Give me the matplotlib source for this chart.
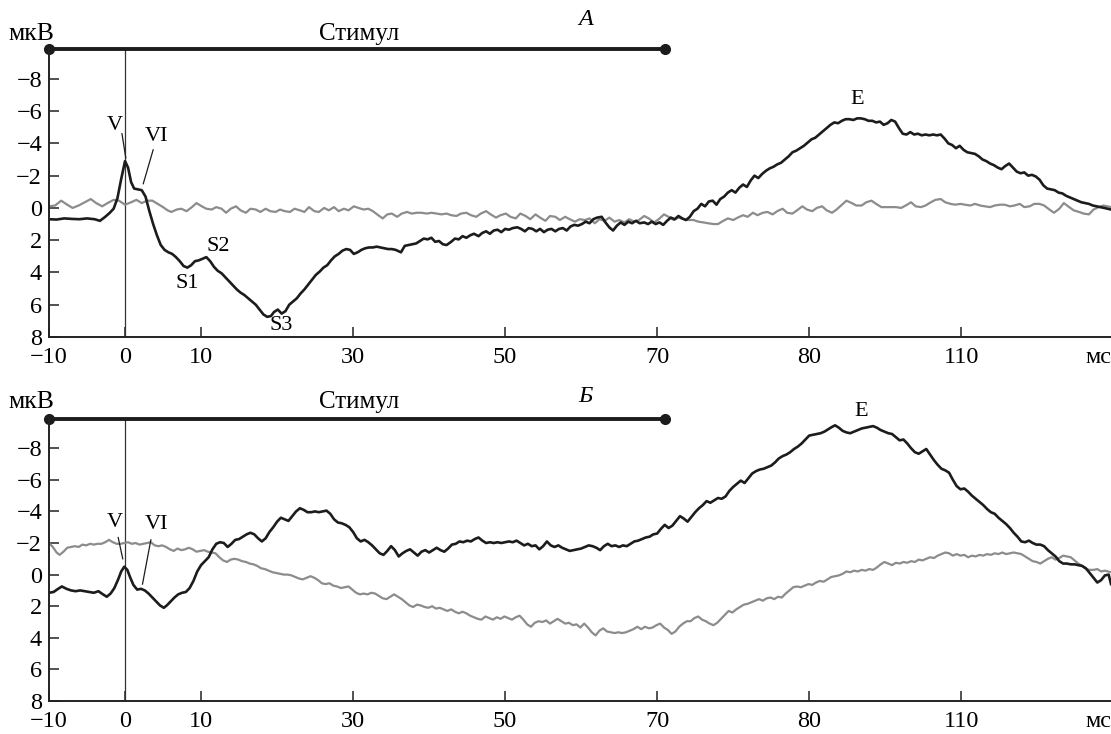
import matplotlib
matplotlib.use('Agg')
import matplotlib.pyplot as plt

plt.rcParams['font.family'] = ['Liberation Serif', 'DejaVu Serif']

# ---- data (time in ms, amplitude in uV, negative up) ----
a_black = [
    (-10.0, 0.70), (-9.0, 0.72), (-8.0, 0.65), (-7.0, 0.68), (-6.0, 0.70), (-5.0, 0.65),
    (-4.0, 0.70), (-3.3, 0.80), (-2.6, 0.55), (-2.0, 0.30), (-1.5, 0.05), (-1.0, -0.60),
    (-0.5, -1.80), (0.0, -2.90), (0.4, -2.50), (0.8, -1.60), (1.2, -1.20), (1.7, -1.15),
    (2.2, -1.10), (2.7, -0.70), (3.2, 0.20), (3.7, 1.00), (4.2, 1.70), (4.7, 2.30),
    (5.2, 2.60), (5.7, 2.75), (6.2, 2.85), (6.7, 3.05), (7.2, 3.30), (7.7, 3.60),
    (8.2, 3.70), (8.7, 3.55), (9.2, 3.30), (9.7, 3.25), (10.2, 3.15), (10.7, 3.05),
    (11.2, 3.30), (11.7, 3.65), (12.2, 3.90), (12.7, 4.05), (13.2, 4.30), (13.7, 4.55),
    (14.2, 4.80), (14.7, 5.05), (15.2, 5.25), (15.7, 5.40), (16.2, 5.60), (16.7, 5.80),
    (17.2, 6.00), (17.7, 6.30), (18.2, 6.60), (18.7, 6.75), (19.2, 6.70), (19.6, 6.45),
    (20.1, 6.30), (20.6, 6.55), (21.1, 6.40), (21.6, 6.00), (22.1, 5.80), (22.6, 5.60),
    (23.1, 5.30), (23.6, 5.05), (24.1, 4.75), (24.6, 4.45), (25.1, 4.15), (25.6, 3.95),
    (26.1, 3.70), (26.6, 3.55), (27.1, 3.25), (27.6, 3.00), (28.1, 2.85), (28.6, 2.65),
    (29.1, 2.55), (29.6, 2.60), (30.1, 2.85), (30.6, 2.75), (31.1, 2.60), (31.6, 2.50),
    (32.1, 2.45), (32.6, 2.45), (33.1, 2.40), (33.6, 2.45), (34.1, 2.50), (34.6, 2.55),
    (35.1, 2.55), (35.6, 2.60), (36.3, 2.75), (36.8, 2.35), (37.3, 2.30), (37.8, 2.25),
    (38.3, 2.20), (38.8, 2.05), (39.3, 1.90), (39.8, 1.95), (40.3, 1.85), (40.8, 2.10),
    (41.3, 2.05), (41.8, 2.25), (42.3, 2.30), (42.9, 2.10), (43.4, 1.90), (43.9, 1.95),
    (44.4, 1.75), (44.9, 1.85), (45.4, 1.70), (45.9, 1.60), (46.5, 1.75), (47.0, 1.55),
    (47.5, 1.45), (48.0, 1.60), (48.5, 1.40), (49.0, 1.35), (49.5, 1.50), (50.0, 1.30),
    (50.5, 1.35), (51.0, 1.25), (51.6, 1.20), (52.1, 1.30), (52.6, 1.45), (53.1, 1.25),
    (53.6, 1.30), (54.1, 1.45), (54.6, 1.30), (55.1, 1.50), (55.6, 1.35), (56.1, 1.30),
    (56.6, 1.45), (57.1, 1.30), (57.6, 1.25), (58.1, 1.40), (58.6, 1.15), (59.1, 1.05),
    (59.6, 1.10), (60.1, 1.00), (60.6, 0.85), (61.1, 0.95), (61.6, 0.70), (62.1, 0.60),
    (62.7, 0.55), (63.2, 0.90), (63.7, 1.20), (64.2, 1.40), (64.7, 1.10), (65.2, 0.90),
    (65.7, 1.05), (66.2, 0.85), (66.7, 0.95), (67.2, 0.80), (67.7, 0.95), (68.3, 0.90),
    (68.8, 1.00), (69.3, 0.85), (69.8, 1.00), (70.3, 0.90), (70.8, 1.05), (71.3, 0.80),
    (71.8, 0.60), (72.3, 0.70), (72.8, 0.50), (73.3, 0.65), (73.8, 0.75), (74.3, 0.55),
    (74.8, 0.20), (75.3, 0.05), (75.8, -0.25), (76.3, -0.10), (76.8, -0.40), (77.3, -0.45),
    (77.8, -0.20), (78.3, -0.55), (78.8, -0.70), (79.3, -0.95), (79.8, -1.10), (80.3, -0.95),
    (80.8, -1.25), (81.3, -1.45), (81.8, -1.30), (82.3, -1.70), (82.8, -2.00), (83.3, -1.85),
    (83.8, -2.10), (84.3, -2.30), (84.8, -2.45), (85.3, -2.55), (85.8, -2.70), (86.3, -2.80),
    (86.8, -3.00), (87.3, -3.20), (87.8, -3.45), (88.3, -3.55), (88.8, -3.70), (89.3, -3.85),
    (89.8, -4.05), (90.3, -4.25), (90.8, -4.35), (91.3, -4.55), (91.8, -4.75), (92.3, -4.95),
    (92.8, -5.15), (93.3, -5.30), (93.8, -5.25), (94.3, -5.40), (94.8, -5.50), (95.3, -5.50),
    (95.8, -5.45), (96.3, -5.55), (96.8, -5.55), (97.3, -5.50), (97.8, -5.40), (98.3, -5.40),
    (98.8, -5.30), (99.3, -5.35), (99.8, -5.15), (100.3, -5.25), (100.8, -5.45), (101.3, -5.35),
    (101.8, -4.95), (102.3, -4.60), (102.8, -4.55), (103.3, -4.70), (103.8, -4.55), (104.3, -4.60),
    (104.8, -4.50), (105.3, -4.55), (105.8, -4.50), (106.3, -4.55), (106.8, -4.50), (107.3, -4.55),
    (107.8, -4.30), (108.3, -4.00), (108.8, -3.90), (109.3, -3.70), (109.8, -3.85), (110.3, -3.60),
    (110.8, -3.45), (111.3, -3.40), (111.8, -3.35), (112.3, -3.20), (112.8, -3.00), (113.3, -2.90),
    (113.8, -2.75), (114.3, -2.65), (114.8, -2.50), (115.3, -2.40), (115.8, -2.60), (116.3, -2.75),
    (116.8, -2.50), (117.3, -2.25), (117.8, -2.15), (118.3, -2.20), (118.8, -2.00), (119.3, -2.05),
    (119.8, -1.95), (120.3, -1.75), (120.8, -1.40), (121.3, -1.20), (121.8, -1.15), (122.3, -1.10),
    (122.8, -0.95), (123.3, -0.90), (123.8, -0.75), (124.3, -0.65), (124.8, -0.55), (125.3, -0.45),
    (125.8, -0.35), (126.3, -0.30), (126.8, -0.25), (127.3, -0.15), (127.8, -0.10), (128.3, -0.05),
    (128.8, 0.00), (129.7, 0.10),
]

a_grey = [
    (-10.0, -0.10), (-9.2, -0.15), (-8.4, -0.45), (-7.6, -0.20), (-6.9, 0.00), (-6.1, -0.15),
    (-5.3, -0.35), (-4.5, -0.55), (-3.8, -0.30), (-3.0, -0.10), (-2.3, -0.30), (-1.5, -0.50),
    (-0.8, -0.45), (0.0, -0.20), (0.8, -0.35), (1.5, -0.50), (2.2, -0.30), (2.9, -0.45),
    (3.6, -0.45), (4.3, -0.25), (5.0, -0.05), (5.6, 0.15), (6.1, 0.25), (6.8, 0.10),
    (7.4, 0.05), (8.1, 0.20), (8.8, -0.05), (9.4, -0.30), (10.1, -0.10), (10.7, 0.05),
    (11.4, 0.10), (12.0, -0.05), (12.7, 0.05), (13.3, 0.30), (13.9, 0.05), (14.6, -0.10),
    (15.2, 0.15), (15.9, 0.30), (16.5, 0.05), (17.2, 0.10), (17.8, 0.25), (18.5, 0.05),
    (19.1, 0.20), (19.8, 0.25), (20.4, 0.10), (21.0, 0.20), (21.7, 0.25), (22.3, 0.05),
    (23.0, 0.15), (23.6, 0.25), (24.2, -0.05), (24.9, 0.20), (25.5, 0.25), (26.2, 0.00),
    (26.8, 0.15), (27.5, -0.05), (28.1, 0.20), (28.8, 0.05), (29.4, 0.15), (30.1, -0.10),
    (30.7, 0.00), (31.4, 0.10), (32.0, 0.05), (32.6, 0.20), (33.3, 0.45), (33.9, 0.65),
    (34.5, 0.40), (35.1, 0.35), (35.8, 0.55), (36.4, 0.35), (37.1, 0.25), (37.7, 0.35),
    (38.4, 0.30), (39.0, 0.30), (39.7, 0.35), (40.3, 0.30), (41.0, 0.35), (41.6, 0.40),
    (42.3, 0.35), (42.9, 0.45), (43.6, 0.50), (44.2, 0.35), (44.9, 0.30), (45.5, 0.45),
    (46.2, 0.55), (46.8, 0.35), (47.5, 0.20), (48.1, 0.40), (48.8, 0.60), (49.4, 0.45),
    (50.1, 0.35), (50.7, 0.55), (51.4, 0.65), (52.0, 0.35), (52.7, 0.50), (53.3, 0.70),
    (54.0, 0.40), (54.6, 0.60), (55.3, 0.80), (55.9, 0.50), (56.6, 0.55), (57.2, 0.75),
    (57.9, 0.55), (58.5, 0.70), (59.2, 0.85), (59.8, 0.70), (60.5, 0.75), (61.1, 0.65),
    (61.8, 0.95), (62.4, 0.70), (63.1, 0.80), (63.7, 0.60), (64.4, 0.85), (65.0, 0.75),
    (65.7, 0.90), (66.3, 0.70), (67.0, 0.85), (67.6, 0.75), (68.3, 0.50), (68.9, 0.65),
    (69.6, 0.90), (70.2, 0.70), (70.9, 0.40), (71.5, 0.55), (72.2, 0.75), (72.8, 0.60),
    (73.5, 0.70), (74.1, 0.75), (74.8, 0.75), (75.4, 0.85), (76.1, 0.90), (76.7, 0.95),
    (77.4, 1.00), (78.0, 1.00), (78.7, 0.80), (79.3, 0.65), (80.0, 0.75), (80.6, 0.60),
    (81.3, 0.45), (81.9, 0.55), (82.6, 0.30), (83.2, 0.45), (83.9, 0.30), (84.5, 0.25),
    (85.2, 0.40), (85.8, 0.20), (86.5, 0.05), (87.1, 0.30), (87.8, 0.35), (88.4, 0.15),
    (89.1, -0.10), (89.7, 0.10), (90.4, 0.20), (91.0, 0.00), (91.7, -0.10), (92.3, 0.15),
    (93.0, 0.30), (93.6, 0.10), (94.3, -0.20), (94.9, -0.45), (95.6, -0.30), (96.2, -0.15),
    (96.9, -0.15), (97.5, -0.35), (98.2, -0.45), (98.8, -0.25), (99.5, -0.05), (100.1, -0.05),
    (100.8, -0.05), (101.4, -0.05), (102.1, 0.00), (102.7, -0.15), (103.4, -0.35), (104.0, -0.10),
    (104.7, -0.05), (105.3, -0.15), (106.0, -0.35), (106.6, -0.50), (107.3, -0.55), (107.9, -0.35),
    (108.6, -0.25), (109.2, -0.20), (109.9, -0.25), (110.5, -0.20), (111.2, -0.15), (111.8, -0.25),
    (112.5, -0.15), (113.1, -0.10), (113.8, -0.05), (114.4, -0.15), (115.1, -0.20), (115.7, -0.20),
    (116.4, -0.10), (117.0, -0.15), (117.7, -0.25), (118.3, -0.05), (119.0, -0.10), (119.6, -0.25),
    (120.3, -0.25), (120.9, -0.15), (121.6, 0.10), (122.2, 0.30), (122.9, 0.05), (123.5, -0.30),
    (124.2, -0.05), (124.8, 0.15), (125.5, 0.25), (126.1, 0.35), (126.8, 0.40), (127.4, 0.10),
    (128.1, -0.05), (128.7, -0.15), (129.7, -0.05),
]

b_black = [
    (-10.0, 1.15), (-9.4, 1.10), (-8.8, 0.90), (-8.3, 0.75), (-7.7, 0.90), (-7.1, 1.00),
    (-6.5, 1.05), (-5.9, 1.00), (-5.3, 1.05), (-4.7, 1.10), (-4.1, 1.15), (-3.5, 1.05),
    (-2.9, 1.25), (-2.4, 1.40), (-1.9, 1.20), (-1.4, 0.85), (-0.9, 0.30), (-0.5, -0.20),
    (-0.1, -0.50), (0.3, -0.30), (0.7, 0.20), (1.1, 0.65), (1.6, 0.95), (2.1, 0.90),
    (2.6, 1.00), (3.1, 1.20), (3.6, 1.45), (4.1, 1.70), (4.6, 1.95), (5.1, 2.10),
    (5.5, 1.95), (6.0, 1.70), (6.5, 1.45), (7.0, 1.25), (7.5, 1.15), (8.0, 1.10),
    (8.5, 0.85), (9.0, 0.40), (9.5, -0.20), (10.0, -0.60), (10.5, -0.85), (11.0, -1.10),
    (11.5, -1.60), (12.0, -1.95), (12.5, -2.05), (13.0, -2.00), (13.5, -1.75), (14.0, -1.95),
    (14.5, -2.20), (15.0, -2.25), (15.5, -2.40), (16.0, -2.55), (16.5, -2.65), (17.0, -2.55),
    (17.5, -2.30), (18.0, -2.10), (18.5, -2.30), (19.0, -2.70), (19.5, -3.00), (20.0, -3.35),
    (20.5, -3.60), (21.0, -3.50), (21.5, -3.40), (22.0, -3.70), (22.5, -4.00), (23.0, -4.20),
    (23.5, -4.10), (24.0, -3.95), (24.5, -3.95), (25.0, -4.00), (25.5, -3.95), (26.0, -4.00),
    (26.5, -4.05), (27.0, -3.85), (27.5, -3.50), (28.0, -3.30), (28.5, -3.25), (29.0, -3.15),
    (29.5, -3.00), (30.0, -2.70), (30.5, -2.30), (31.0, -2.10), (31.5, -2.20), (32.0, -2.05),
    (32.5, -1.85), (33.0, -1.60), (33.5, -1.35), (34.0, -1.25), (34.5, -1.50), (35.0, -1.80),
    (35.5, -1.55), (36.0, -1.15), (36.5, -1.35), (37.0, -1.50), (37.5, -1.60), (38.0, -1.40),
    (38.5, -1.20), (39.0, -1.45), (39.5, -1.55), (40.0, -1.40), (40.5, -1.55), (41.0, -1.70),
    (41.5, -1.55), (42.0, -1.45), (42.5, -1.65), (43.0, -1.90), (43.5, -1.95), (44.0, -2.10),
    (44.5, -2.05), (45.0, -2.15), (45.5, -2.10), (46.0, -2.25), (46.5, -2.35), (47.0, -2.15),
    (47.5, -2.00), (48.0, -2.05), (48.5, -2.00), (49.0, -2.05), (49.5, -2.00), (50.0, -2.05),
    (50.5, -2.10), (51.0, -2.05), (51.5, -2.15), (52.0, -2.00), (52.5, -1.85), (53.0, -1.95),
    (53.5, -1.80), (54.0, -1.85), (54.5, -1.60), (55.0, -1.80), (55.5, -2.10), (56.0, -1.85),
    (56.5, -1.75), (57.0, -1.85), (57.5, -1.70), (58.0, -1.60), (58.5, -1.50), (59.0, -1.55),
    (59.5, -1.60), (60.0, -1.65), (60.5, -1.75), (61.0, -1.85), (61.5, -1.80), (62.0, -1.70),
    (62.5, -1.55), (63.0, -1.80), (63.5, -1.95), (64.0, -1.80), (64.5, -1.85), (65.0, -1.75),
    (65.5, -1.85), (66.0, -1.80), (66.5, -1.95), (67.0, -2.10), (67.5, -2.15), (68.0, -2.25),
    (68.5, -2.35), (69.0, -2.40), (69.5, -2.55), (70.0, -2.60), (70.5, -2.90), (71.0, -3.15),
    (71.5, -2.95), (72.0, -3.10), (72.5, -3.40), (73.0, -3.70), (73.5, -3.55), (74.0, -3.35),
    (74.5, -3.65), (75.0, -3.95), (75.5, -4.20), (76.0, -4.40), (76.5, -4.65), (77.0, -4.55),
    (77.5, -4.70), (78.0, -4.85), (78.5, -4.80), (79.0, -4.95), (79.5, -5.30), (80.0, -5.55),
    (80.5, -5.75), (81.0, -5.95), (81.5, -5.80), (82.0, -6.10), (82.5, -6.40), (83.0, -6.55),
    (83.5, -6.65), (84.0, -6.70), (84.5, -6.80), (85.0, -6.90), (85.5, -7.10), (86.0, -7.35),
    (86.5, -7.50), (87.0, -7.60), (87.5, -7.75), (88.0, -7.95), (88.5, -8.10), (89.0, -8.30),
    (89.5, -8.55), (90.0, -8.80), (90.5, -8.85), (91.0, -8.90), (91.5, -8.95), (92.0, -9.05),
    (92.5, -9.20), (93.0, -9.35), (93.4, -9.45), (93.9, -9.30), (94.4, -9.10), (94.9, -9.00),
    (95.4, -8.95), (95.9, -9.05), (96.4, -9.15), (96.9, -9.25), (97.4, -9.30), (97.9, -9.35),
    (98.4, -9.40), (98.9, -9.30), (99.4, -9.15), (99.9, -9.05), (100.4, -8.95), (100.9, -8.90),
    (101.4, -8.70), (101.9, -8.50), (102.4, -8.55), (102.9, -8.30), (103.4, -8.00), (103.9, -7.75),
    (104.4, -7.65), (104.9, -7.80), (105.4, -7.95), (105.9, -7.60), (106.4, -7.25), (106.9, -6.95),
    (107.4, -6.70), (107.9, -6.60), (108.4, -6.45), (108.9, -6.00), (109.4, -5.60), (109.9, -5.40),
    (110.4, -5.45), (110.9, -5.25), (111.4, -5.00), (111.9, -4.80), (112.4, -4.60), (112.9, -4.40),
    (113.4, -4.15), (113.9, -3.95), (114.4, -3.85), (114.9, -3.60), (115.4, -3.40), (115.9, -3.20),
    (116.4, -2.95), (116.9, -2.65), (117.4, -2.40), (117.9, -2.10), (118.4, -2.05), (118.9, -2.15),
    (119.4, -2.00), (119.9, -1.90), (120.4, -1.90), (120.9, -1.80), (121.4, -1.55), (121.9, -1.35),
    (122.4, -1.15), (122.9, -0.85), (123.4, -0.70), (123.9, -0.70), (124.4, -0.65), (124.9, -0.65),
    (125.4, -0.60), (125.9, -0.55), (126.4, -0.40), (126.9, -0.10), (127.4, 0.20), (127.9, 0.50),
    (128.4, 0.35), (128.9, 0.05), (129.4, 0.00), (129.7, 0.60),
]

b_grey = [
    (-10.0, -2.00), (-9.5, -1.75), (-9.0, -1.40), (-8.6, -1.25), (-8.1, -1.45), (-7.6, -1.70),
    (-7.1, -1.75), (-6.6, -1.80), (-6.1, -1.75), (-5.6, -1.90), (-5.1, -1.85), (-4.6, -1.95),
    (-4.1, -1.90), (-3.6, -1.95), (-3.1, -1.95), (-2.6, -2.05), (-2.1, -2.20), (-1.6, -2.05),
    (-1.1, -1.95), (-0.6, -1.95), (-0.1, -2.00), (0.4, -2.05), (0.9, -1.95), (1.4, -2.00),
    (1.9, -1.90), (2.4, -1.95), (2.9, -2.00), (3.4, -2.05), (3.9, -1.85), (4.4, -1.80),
    (4.9, -1.85), (5.4, -1.75), (5.9, -1.60), (6.4, -1.50), (6.9, -1.65), (7.4, -1.55),
    (7.9, -1.60), (8.4, -1.70), (8.9, -1.60), (9.4, -1.45), (9.9, -1.50), (10.4, -1.55),
    (10.9, -1.45), (11.4, -1.40), (11.9, -1.35), (12.4, -1.10), (12.9, -0.90), (13.4, -0.80),
    (13.9, -0.95), (14.4, -1.00), (14.9, -0.95), (15.4, -0.85), (15.9, -0.80), (16.4, -0.70),
    (16.9, -0.65), (17.4, -0.55), (17.9, -0.40), (18.4, -0.35), (18.9, -0.25), (19.4, -0.15),
    (19.9, -0.10), (20.4, -0.05), (20.9, 0.00), (21.4, 0.00), (21.9, 0.05), (22.4, 0.15),
    (22.9, 0.25), (23.4, 0.30), (23.9, 0.20), (24.4, 0.10), (24.9, 0.20), (25.4, 0.35),
    (25.9, 0.55), (26.4, 0.60), (26.9, 0.55), (27.4, 0.70), (27.9, 0.75), (28.4, 0.85),
    (28.9, 0.80), (29.4, 0.75), (29.9, 0.95), (30.4, 1.15), (30.9, 1.25), (31.4, 1.20),
    (31.9, 1.25), (32.4, 1.15), (32.9, 1.20), (33.4, 1.35), (33.9, 1.50), (34.4, 1.55),
    (34.9, 1.40), (35.4, 1.25), (35.9, 1.40), (36.4, 1.55), (36.9, 1.75), (37.4, 1.95),
    (37.9, 2.05), (38.4, 1.90), (38.9, 1.95), (39.4, 2.05), (39.9, 2.10), (40.4, 2.00),
    (40.9, 2.15), (41.4, 2.10), (41.9, 2.20), (42.4, 2.30), (42.9, 2.20), (43.4, 2.35),
    (43.9, 2.45), (44.4, 2.35), (44.9, 2.45), (45.4, 2.60), (45.9, 2.70), (46.4, 2.80),
    (46.9, 2.85), (47.4, 2.65), (47.9, 2.75), (48.4, 2.85), (48.9, 2.70), (49.4, 2.80),
    (49.9, 2.65), (50.4, 2.75), (50.9, 2.85), (51.4, 2.70), (51.9, 2.60), (52.4, 2.85),
    (52.9, 3.15), (53.4, 3.30), (53.9, 3.05), (54.4, 2.95), (54.9, 3.00), (55.4, 2.90),
    (55.9, 3.10), (56.4, 2.95), (56.9, 2.80), (57.4, 2.95), (57.9, 3.10), (58.4, 3.05),
    (58.9, 3.20), (59.4, 3.15), (59.9, 3.35), (60.4, 3.10), (60.9, 3.35), (61.4, 3.65),
    (61.9, 3.85), (62.4, 3.55), (62.9, 3.40), (63.4, 3.60), (63.9, 3.65), (64.4, 3.70),
    (64.9, 3.65), (65.4, 3.70), (65.9, 3.65), (66.4, 3.55), (66.9, 3.45), (67.4, 3.30),
    (67.9, 3.45), (68.4, 3.30), (68.9, 3.40), (69.4, 3.35), (69.9, 3.20), (70.4, 3.10),
    (70.9, 3.35), (71.4, 3.50), (71.9, 3.75), (72.4, 3.60), (72.9, 3.30), (73.4, 3.10),
    (73.9, 2.95), (74.4, 2.95), (74.9, 2.75), (75.4, 2.65), (75.9, 2.85), (76.4, 2.95),
    (76.9, 3.10), (77.4, 3.20), (77.9, 3.05), (78.4, 2.80), (78.9, 2.55), (79.4, 2.30),
    (79.9, 2.40), (80.4, 2.20), (80.9, 2.05), (81.4, 1.90), (81.9, 1.85), (82.4, 1.75),
    (82.9, 1.65), (83.4, 1.55), (83.9, 1.65), (84.4, 1.50), (84.9, 1.45), (85.4, 1.55),
    (85.9, 1.40), (86.4, 1.45), (86.9, 1.20), (87.4, 1.00), (87.9, 0.80), (88.4, 0.75),
    (88.9, 0.80), (89.4, 0.70), (89.9, 0.60), (90.4, 0.65), (90.9, 0.50), (91.4, 0.40),
    (91.9, 0.45), (92.4, 0.30), (92.9, 0.15), (93.4, 0.10), (93.9, 0.05), (94.4, -0.05),
    (94.9, -0.20), (95.4, -0.15), (95.9, -0.25), (96.4, -0.20), (96.9, -0.30), (97.4, -0.25),
    (97.9, -0.35), (98.4, -0.30), (98.9, -0.45), (99.4, -0.65), (99.9, -0.80), (100.4, -0.70),
    (100.9, -0.60), (101.4, -0.75), (101.9, -0.70), (102.4, -0.80), (102.9, -0.75), (103.4, -0.85),
    (103.9, -0.80), (104.4, -0.95), (104.9, -0.90), (105.4, -1.00), (105.9, -1.10), (106.4, -1.05),
    (106.9, -1.20), (107.4, -1.30), (107.9, -1.40), (108.4, -1.35), (108.9, -1.20), (109.4, -1.30),
    (109.9, -1.20), (110.4, -1.25), (110.9, -1.10), (111.4, -1.20), (111.9, -1.15), (112.4, -1.25),
    (112.9, -1.20), (113.4, -1.30), (113.9, -1.25), (114.4, -1.35), (114.9, -1.30), (115.4, -1.40),
    (115.9, -1.30), (116.4, -1.35), (116.9, -1.40), (117.4, -1.35), (117.9, -1.30), (118.4, -1.15),
    (118.9, -1.00), (119.4, -0.85), (119.9, -0.80), (120.4, -0.70), (120.9, -0.85), (121.4, -1.00),
    (121.9, -1.10), (122.4, -0.95), (122.9, -1.05), (123.4, -1.20), (123.9, -1.15), (124.4, -1.10),
    (124.9, -0.90), (125.4, -0.70), (125.9, -0.55), (126.4, -0.35), (126.9, -0.30), (127.4, -0.30),
    (127.9, -0.35), (128.4, -0.20), (128.9, -0.25), (129.7, -0.15),
]

x_ticks = [-10, 0, 10, 30, 50, 70, 90, 110]
x_tick_labels = ['\u221210', '0', '10', '30', '50', '70', '80', '110']
y_ticks = [-8, -6, -4, -2, 0, 2, 4, 6, 8]
stim_start, stim_end = -10, 71

# peak labels: (text, x, y)
a_labels = [('S1', 8.2, 4.7), ('S2', 12.3, 2.4), ('S3', 20.5, 7.3), ('E', 96.3, -6.7)]
b_labels = [('E', 96.8, -10.3)]


def unzip(pts):
    return [p[0] for p in pts], [p[1] for p in pts]


def setup_panel(ax, black, grey, letter, letter_y, text_y, v_lab, vi_lab):
    top = -9.85
    ax.set_xlim(-10, 129.7)
    ax.set_ylim(8, top)
    for s in ['top', 'right']:
        ax.spines[s].set_visible(False)
    for s in ['left', 'bottom']:
        ax.spines[s].set_linewidth(1.4)
        ax.spines[s].set_color('#222222')

    ax.set_yticks(y_ticks)
    ax.set_yticklabels([str(v).replace('-', '\u2212') for v in y_ticks])
    ax.set_xticks(x_ticks + [129.7])
    ax.set_xticklabels(x_tick_labels + ['мс'])
    ax.xaxis.get_major_ticks()[-1].tick1line.set_visible(False)
    ax.get_xticklabels()[-1].set_horizontalalignment('right')
    ax.tick_params(direction='in', length=7, width=1.1, labelsize=17.5,
                   color='#222222')
    ax.tick_params(axis='x', pad=7)
    ax.tick_params(axis='y', pad=5)

    ax.plot([0, 0], [8, top], color='#333333', lw=0.9)
    gx, gy = unzip(grey)
    ax.plot(gx, gy, color='#8c8c8c', lw=1.6)
    bx, by = unzip(black)
    ax.plot(bx, by, color='#1c1c1c', lw=1.9)

    # stimulus bar
    ax.plot([stim_start, stim_end], [top, top], color='#1c1c1c', lw=2.8,
            solid_capstyle='butt', clip_on=False)
    ax.plot([stim_start, stim_end], [top, top], 'o', color='#1c1c1c', ms=7,
            clip_on=False)
    ax.text(30.8, text_y, 'Стимул', fontsize=18, ha='center', va='center')
    ax.text(-12.3, text_y, 'мкВ', fontsize=18.5, ha='center', va='center')
    ax.text(60.6, letter_y, letter, fontsize=17.5, style='italic',
            ha='center', va='center')

    # V / VI labels with pointer lines
    for txt, tx, ty, seg in (v_lab, vi_lab):
        ax.text(tx, ty, txt, fontsize=16, ha='center', va='center')
        ax.plot(seg[0], seg[1], color='#1c1c1c', lw=0.9)


fig = plt.figure(figsize=(11.11, 7.34), dpi=100)
axA = fig.add_axes([49 / 1111, 1 - 337 / 734, 1 - 49 / 1111, (337 - 49) / 734])
axB = fig.add_axes([49 / 1111, 1 - 701 / 734, 1 - 49 / 1111, (701 - 419) / 734])

setup_panel(axA, a_black, a_grey, 'A', -11.65, -10.75,
            ('V', -1.3, -5.1, ([-0.4, 0.1], [-4.6, -3.1])),
            ('VI', 4.2, -4.45, ([3.7, 2.4], [-3.6, -1.5])))
for t, x, y in a_labels:
    axA.text(x, y, t, fontsize=16, ha='center', va='center')

setup_panel(axB, b_black, b_grey, 'Б', -11.3, -10.9,
            ('V', -1.3, -3.3, ([-0.9, -0.3], [-2.35, -1.0])),
            ('VI', 4.2, -3.2, ([3.4, 2.3], [-2.2, 0.6])))
for t, x, y in b_labels:
    axB.text(x, y, t, fontsize=16, ha='center', va='center')

fig.savefig('out.png', dpi=100)
